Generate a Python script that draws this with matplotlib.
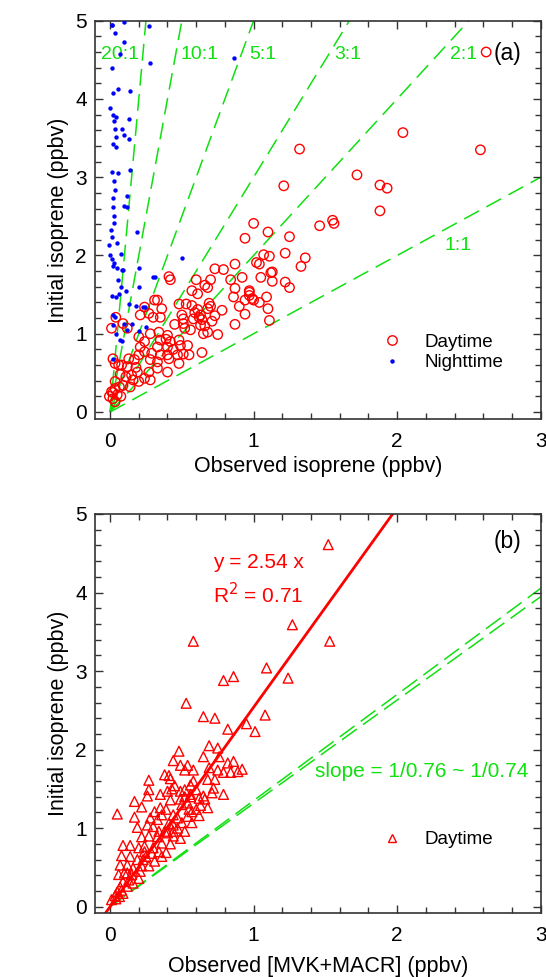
import matplotlib
matplotlib.use("Agg")
import matplotlib.pyplot as plt
from matplotlib.ticker import MultipleLocator
from matplotlib.lines import Line2D

plt.rcParams['font.family'] = ['Liberation Sans', 'DejaVu Sans']

# ---------------- data ----------------
# Panel (a): daytime (observed isoprene, initial isoprene)
day_a_x = [2.62, 2.04, 2.58, 1.72, 1.88, 1.93, 1.88, 1.55, 1.32, 1.21, 1.46, 1.56, 1.36, 1.33,
           1.00, 1.10, 0.94, 1.25, 1.22, 1.07, 1.11, 1.02, 1.04, 0.87, 0.73, 0.79, 1.13, 1.12, 1.05, 0.92,
           0.84, 1.13, 1.22, 1.25, 0.41, 0.42, 0.60, 0.70, 0.66, 0.68, 0.57, 0.61, 0.87, 0.86, 0.97, 1.00,
           0.97, 1.09, 1.10, 1.11, 0.90, 0.94, 0.87, 0.78, 0.73, 0.69, 0.68, 0.70, 0.61, 0.62, 0.64, 0.58,
           0.63, 0.66, 0.68, 0.65, 0.75, 0.51, 0.50, 0.51, 0.52, 0.48, 0.53, 0.57, 0.31, 0.33, 0.36, 0.27,
           0.21, 0.30, 0.35, 0.24, 0.09, 0.12, 0.01, 0.04, 0.34, 0.28, 0.20, 0.24, 0.40, 0.42, 0.48, 0.49,
           0.54, 0.51, 0.47, 0.40, 0.41, 0.39, 0.55, 0.64, 0.48, 0.40, 0.33, 0.29, 0.28, 0.24, 0.21, 0.20,
           0.17, 0.13, 0.12, 0.035, 0.06, 0.08, 0.02, 0.15, 0.16, 0.20, 0.24, 0.27, 0.28, 0.14, 0.09, 0.065,
           0.035, 0.035, 0.01, -0.005, 0.02, 0.05, 0.035, 0.075, 0.02, 0.19, 0.33, 0.35, 0.40, 0.33, 0.35,
           0.99, 0.94, 1.04, 0.97, 0.59, 0.63, 0.71, 0.56, 0.45, 0.44, 0.18, 0.11, 0.07]
day_a_y = [4.60, 3.57, 3.35, 3.03, 2.90, 2.86, 2.57, 2.45, 3.36, 2.89, 2.38, 2.41, 1.97, 1.86,
           2.41, 2.30, 2.22, 2.24, 2.03, 2.01, 1.99, 1.91, 1.89, 1.89, 1.83, 1.82, 1.79, 1.78, 1.72, 1.72,
           1.69, 1.67, 1.66, 1.59, 1.73, 1.69, 1.69, 1.69, 1.62, 1.59, 1.55, 1.51, 1.58, 1.47, 1.55, 1.43,
           1.49, 1.47, 1.32, 1.17, 1.35, 1.25, 1.12, 1.30, 1.23, 1.39, 1.32, 1.35, 1.31, 1.21, 1.18, 1.19,
           1.11, 1.10, 1.02, 1.00, 0.99, 1.19, 1.24, 1.13, 1.07, 1.38, 1.38, 1.36, 1.43, 1.43, 1.32, 1.26,
           1.24, 1.21, 1.21, 1.34, 1.13, 1.07, 1.07, 1.21, 1.02, 1.00, 0.96, 0.90, 0.98, 0.90, 0.92, 0.85,
           0.85, 0.74, 0.73, 0.73, 0.68, 0.93, 0.73, 0.76, 0.62, 0.51, 0.56, 0.75, 0.67, 0.77, 0.83, 0.73,
           0.67, 0.68, 0.58, 0.62, 0.60, 0.60, 0.68, 0.47, 0.41, 0.39, 0.43, 0.51, 0.41, 0.32, 0.34, 0.32,
           0.39, 0.30, 0.26, 0.20, 0.17, 0.22, 0.13, 0.20, 0.25, 0.51, 0.64, 0.73, 0.83, 0.83, 0.92,
           1.45, 1.43, 1.40, 1.53, 1.27, 1.24, 1.16, 1.05, 1.12, 0.80, 0.57, 0.45, 0.48]

# Panel (a): nighttime
night_x = [0.016, 0.10, 0.035, 0.27, 0.10, 0.07, 0.016, 0.28, 0.023, 0.058, 0.14, 0.0, 0.023, 0.04,
           0.028, 0.13, 0.035, 0.08, 0.10, 0.13, 0.04, 0.023, 0.04, 0.016, 0.058, 0.14, 0.03, 0.035,
           0.12, 0.023, 0.019, 0.10, 0.12, 0.03, 0.028, 0.007, 0.19, 0.016, 0.047, -0.005, 0.077, 0.0,
           0.012, 0.028, 0.019, 0.047, 0.50, 0.086, 0.20, 0.058, 0.31, 0.075, 0.11, 0.016, 0.04, 0.065,
           0.13, 0.18, 0.24, 0.019, 0.035, 0.10, 0.15, 0.25, 0.12, 0.04, 0.20, 0.07, 0.86, 0.014,
           0.09, 0.20, 0.30, 0.23, 0.02, 0.08, 0.02]
night_y = [4.94, 4.98, 4.84, 4.93, 4.73, 4.58, 4.40, 4.46, 4.08, 4.13, 4.10, 3.88, 3.79, 3.77,
           3.72, 3.74, 3.62, 3.62, 3.54, 3.49, 3.51, 3.42, 3.38, 3.07, 3.05, 3.09, 2.95, 2.84,
           2.76, 2.73, 2.62, 2.63, 2.62, 2.50, 2.41, 2.32, 2.30, 2.23, 2.16, 2.14, 2.02, 2.00,
           1.96, 1.90, 1.86, 1.84, 1.97, 1.81, 1.84, 1.69, 1.72, 1.60, 1.55, 1.48, 1.47, 1.51,
           1.38, 1.35, 1.34, 1.24, 1.21, 1.12, 1.12, 1.08, 1.05, 1.00, 1.04, 0.92, 4.52, 4.94,
           1.81, 1.60, 1.72, 1.34, 1.11, 0.91, 0.68]

# Panel (b): daytime (observed MVK+MACR, initial isoprene)
day_b_x = [1.52, 1.53, 1.27, 1.09, 1.24, 0.58, 0.79, 0.86, 0.53, 0.65, 0.73, 1.08, 0.82, 0.95, 1.01,
           0.69, 0.75, 0.48, 0.65, 0.76, 0.82, 0.86, 0.44, 0.49, 0.54, 0.58, 0.52, 0.69, 0.75, 0.79,
           0.84, 0.89, 0.92, 0.38, 0.41, 0.42, 0.27, 0.58, 0.68, 0.73, 0.45, 0.43, 0.52, 0.27, 0.35,
           0.26, 0.72, 0.71, 0.79, 0.40, 0.56, 0.65, 0.66, 0.17, 0.22, 0.42, 0.49, 0.50, 0.54, 0.55,
           0.63, 0.62, 0.68, 0.05, 0.35, 0.39, 0.31, 0.36, 0.44, 0.47, 0.17, 0.57, 0.26, 0.19, 0.30,
           0.41, 0.47, 0.52, 0.40, 0.34, 0.22, 0.27, 0.33, 0.44, 0.49, 0.36, 0.42, 0.09, 0.14, 0.20,
           0.24, 0.30, 0.29, 0.39, 0.08, 0.14, 0.25, 0.19, 0.31, 0.22, 0.27, 0.07, 0.12, 0.16, 0.06,
           0.10, 0.15, 0.21, 0.13, 0.09, 0.16, 0.07, 0.12, 0.05, 0.08, 0.035, 0.065, 0.01, 0.04, 0.09,
           0.12, 0.20, 0.23, 0.24, 0.34, 0.36, 0.44, 0.50, 0.54, 0.57, 0.60, 0.56, 0.52, 0.49, 0.56,
           0.60, 0.62, 0.33, 0.28, 0.38, 0.44]
day_b_y = [4.61, 3.38, 3.59, 3.04, 2.91, 3.38, 2.88, 2.93, 2.59, 2.42, 2.40, 2.44, 2.26, 2.33, 2.23,
           2.05, 2.02, 1.98, 1.91, 1.91, 1.83, 1.85, 1.86, 1.80, 1.80, 1.74, 1.74, 1.77, 1.74, 1.71,
           1.71, 1.72, 1.75, 1.68, 1.67, 1.63, 1.61, 1.60, 1.62, 1.62, 1.54, 1.50, 1.49, 1.49, 1.43,
           1.41, 1.51, 1.45, 1.43, 1.47, 1.43, 1.41, 1.37, 1.34, 1.27, 1.36, 1.37, 1.30, 1.32, 1.24,
           1.29, 1.16, 1.26, 1.18, 1.26, 1.24, 1.21, 1.17, 1.17, 1.13, 1.14, 1.07, 1.04, 1.01, 1.02,
           1.06, 1.00, 0.96, 0.94, 0.96, 0.89, 0.90, 0.89, 0.90, 0.87, 0.81, 0.80, 0.78, 0.78, 0.75,
           0.77, 0.75, 0.68, 0.69, 0.65, 0.64, 0.64, 0.60, 0.58, 0.52, 0.52, 0.53, 0.53, 0.49, 0.41,
           0.43, 0.41, 0.45, 0.34, 0.32, 0.30, 0.25, 0.26, 0.19, 0.21, 0.14, 0.13, 0.09, 0.10, 0.17,
           0.43, 0.36, 0.60, 0.70, 0.70, 0.64, 1.04, 1.07, 1.15, 1.21, 1.24, 1.40, 1.40, 1.47, 1.55,
           1.49, 1.38, 1.11, 1.13, 0.96, 0.96]

ratios = [20, 10, 5, 3, 2, 1]
ratio_labels = ['20:1', '10:1', '5:1', '3:1', '2:1', '1:1']
ratio_label_pos = [(-0.06, 4.57), (0.49, 4.57), (0.97, 4.57), (1.56, 4.57), (2.37, 4.57), (2.33, 2.13)]

fit_slope = 2.54
fit_r2 = 0.71
ref_slopes = [1 / 0.76, 1 / 0.74]

# ---------------- styling ----------------
GREEN = '#10e010'
RED = '#ff0000'
BLUE = '#0000ff'
SPINE = '#333333'
DASH = (11, 5.5)


def style_axes(ax):
    ax.set_xlim(-0.105, 3.0)
    ax.set_xticks([0, 1, 2, 3])
    ax.set_yticks([0, 1, 2, 3, 4, 5])
    ax.xaxis.set_minor_locator(MultipleLocator(0.2))
    ax.yaxis.set_minor_locator(MultipleLocator(0.2))
    ax.tick_params(which='both', direction='in', top=True, right=True, color=SPINE, width=1.0)
    ax.tick_params(which='major', length=6)
    ax.tick_params(which='minor', length=4)
    ax.tick_params(axis='x', which='major', labelsize=15, pad=9)
    ax.tick_params(axis='y', which='major', labelsize=15, pad=6)
    for s in ax.spines.values():
        s.set_color(SPINE)
        s.set_linewidth(1.2)


fig = plt.figure(figsize=(5.46, 9.77), dpi=100)
ax1 = fig.add_axes([0.174, 0.5711, 0.8163, 0.4077])
ax2 = fig.add_axes([0.174, 0.0655, 0.8163, 0.4084])

# ---------------- panel (a) ----------------
for k, lab, (tx, ty) in zip(ratios, ratio_labels, ratio_label_pos):
    xe = min(3.0, 5.0 / k)
    ax1.plot([0, xe], [0, k * xe], color=GREEN, lw=1.1, dashes=DASH, zorder=1)
    ax1.text(tx, ty, lab, color=GREEN, fontsize=14, ha='left', va='center')

ax1.scatter(day_a_x, day_a_y, s=46, facecolors='none', edgecolors=RED, linewidths=1.0, zorder=3)
ax1.scatter(night_x, night_y, s=10, color=BLUE, linewidths=0, zorder=4)
style_axes(ax1)
ax1.set_ylim(-0.09, 5.0)
ax1.set_xlabel('Observed isoprene (ppbv)', fontsize=15.5)
ax1.set_ylabel('Initial isoprene (ppbv)', fontsize=15.5)
ax1.xaxis.set_label_coords(0.5, -0.092)
ax1.yaxis.set_label_coords(-0.058, 0.5)
ax1.text(0.957, 0.917, '(a)', transform=ax1.transAxes, fontsize=16.5, ha='right', va='center')

h_day = Line2D([], [], ls='none', marker='o', ms=6.8, mfc='none', mec=RED, mew=1.0)
h_night = Line2D([], [], ls='none', marker='o', ms=3.2, mfc=BLUE, mec=BLUE, mew=0)
ax1.legend([h_day, h_night], ['Daytime', 'Nighttime'], loc='upper left',
           bbox_to_anchor=(0.645, 0.215), frameon=False, fontsize=13.5,
           handlelength=1.0, handletextpad=1.25, labelspacing=0.2, borderpad=0, borderaxespad=0)

# ---------------- panel (b) ----------------
xs = [-0.105, 3.0]
ax2.plot(xs, [fit_slope * v for v in xs], color=RED, lw=2.0, zorder=2)
for m in ref_slopes:
    ax2.plot([0, 3.0], [0, 3.0 * m], color=GREEN, lw=1.1, dashes=(12, 5), zorder=1)
ax2.scatter(day_b_x, day_b_y, s=50, marker='^', facecolors='none', edgecolors=RED, linewidths=1.0, zorder=3)
style_axes(ax2)
ax2.set_ylim(-0.08, 5.0)
ax2.set_xlabel('Observed [MVK+MACR] (ppbv)', fontsize=15.5)
ax2.set_ylabel('Initial isoprene (ppbv)', fontsize=15.5)
ax2.xaxis.set_label_coords(0.5, -0.108)
ax2.yaxis.set_label_coords(-0.058, 0.5)
ax2.text(0.957, 0.93, '(b)', transform=ax2.transAxes, fontsize=16.5, ha='right', va='center')
ax2.text(0.72, 4.38, 'y = %.2f x' % fit_slope, color=RED, fontsize=15, ha='left', va='center')
ax2.text(0.72, 3.97, 'R$^2$ = %.2f' % fit_r2, color=RED, fontsize=15, ha='left', va='center')
ax2.text(1.43, 1.72, 'slope = 1/0.76 ~ 1/0.74', color=GREEN, fontsize=15, ha='left', va='center')

h_tri = Line2D([], [], ls='none', marker='^', ms=6, mfc='none', mec=RED, mew=1.0)
ax2.legend([h_tri], ['Daytime'], loc='upper left',
           bbox_to_anchor=(0.645, 0.205), frameon=False, fontsize=13.5,
           handlelength=1.0, handletextpad=1.25, borderpad=0, borderaxespad=0)

fig.savefig('out.png', dpi=100)
